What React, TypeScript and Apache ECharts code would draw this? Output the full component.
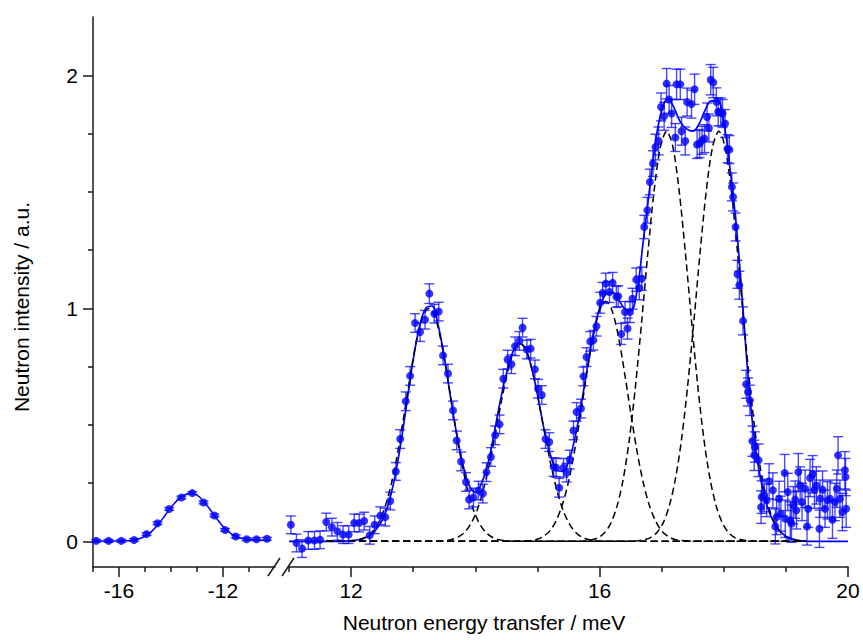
import React, { useEffect, useRef } from "react";
import * as echarts from "echarts";

// ---------- left segment (energy loss side) ----------
const leftX = [-16.88, -16.4, -15.91, -15.42, -14.94, -14.52, -14.07, -13.6, -13.18, -12.75, -12.33, -11.92, -11.51, -11.09, -10.71, -10.31];
const leftY = [0.002, 0.002, 0.002, 0.006, 0.031, 0.078, 0.139, 0.188, 0.207, 0.167, 0.111, 0.049, 0.021, 0.009, 0.009, 0.011];
const leftErr = [0.006, 0.006, 0.006, 0.006, 0.006, 0.006, 0.006, 0.006, 0.006, 0.006, 0.006, 0.006, 0.006, 0.006, 0.006, 0.006];

const leftFitX = [-17, -16.5, -16, -15.5, -15.25, -15, -14.75, -14.5, -14.25, -14, -13.75, -13.5, -13.25, -13, -12.75, -12.5, -12.25, -12, -11.75, -11.5, -11.25, -11, -10.5, -10.2];
const leftFitY = [0.002, 0.002, 0.002, 0.004, 0.01, 0.022, 0.042, 0.072, 0.108, 0.146, 0.177, 0.198, 0.206, 0.198, 0.172, 0.137, 0.099, 0.064, 0.038, 0.021, 0.012, 0.008, 0.005, 0.004];

// ---------- right segment ----------
const rightX = [
  11.03, 11.12, 11.21, 11.31, 11.41, 11.5, 11.6, 11.69, 11.78, 11.87,
  11.96, 12.05, 12.13, 12.21, 12.3, 12.38, 12.47, 12.55, 12.63, 12.72,
  12.79, 12.88, 12.95, 13.03, 13.11, 13.19, 13.26, 13.34, 13.41, 13.48,
  13.56, 13.64, 13.7, 13.77, 13.85, 13.9, 13.97, 14.05, 14.12, 14.18,
  14.25, 14.32, 14.39, 14.45, 14.52, 14.58, 14.64, 14.71, 14.76, 14.83,
  14.89, 14.96, 15.01, 15.07, 15.13, 15.19, 15.26, 15.3, 15.35, 15.42,
  15.47, 15.52, 15.58, 15.63, 15.7, 15.74, 15.79, 15.85, 15.9, 15.95,
  16.01, 16.05, 16.1, 16.16, 16.21, 16.27, 16.3, 16.35, 16.41, 16.45,
  16.49, 16.53, 16.59, 16.64, 16.68, 16.72, 16.77, 16.81, 16.86, 16.9,
  16.95, 16.99, 17.04, 17.08, 17.12, 17.16, 17.22, 17.24, 17.3, 17.32,
  17.38, 17.41, 17.48, 17.53, 17.57, 17.61, 17.65, 17.69, 17.73, 17.76,
  17.79, 17.83, 17.88, 17.91, 17.95, 17.98, 18.02, 18.06, 18.09, 18.13,
  18.15, 18.19, 18.22, 18.25, 18.31, 18.36, 18.39, 18.42, 18.46, 18.49,
  18.5, 18.56, 18.6, 18.61, 18.65, 18.69, 18.73, 18.79, 18.83, 18.85,
  18.89, 18.92, 18.98, 18.99, 19.03, 19.07, 19.09, 19.12, 19.15, 19.17,
  19.2, 19.23, 19.26, 19.31, 19.34, 19.36, 19.39, 19.43, 19.46, 19.49,
  19.54, 19.55, 19.59, 19.63, 19.67, 19.71, 19.75, 19.79, 19.82, 19.84,
  19.87, 19.91, 19.95, 19.96, 19.97,
];
const rightY = [
  0.071, -0.007, -0.031, 0.004, 0.004, 0.007, 0.083, 0.061, 0.043, 0.029,
  0.029, 0.079, 0.079, 0.087, 0.026, 0.071, 0.11, 0.104, 0.173, 0.3,
  0.439, 0.601, 0.71, 0.937, 0.898, 0.951, 1.063, 0.977, 0.986, 0.798,
  0.72, 0.562, 0.433, 0.343, 0.255, 0.18, 0.188, 0.218, 0.205, 0.297,
  0.362, 0.455, 0.502, 0.698, 0.78, 0.76, 0.837, 0.86, 0.917, 0.823,
  0.827, 0.738, 0.655, 0.628, 0.439, 0.426, 0.319, 0.316, 0.23, 0.316,
  0.295, 0.351, 0.476, 0.555, 0.57, 0.708, 0.791, 0.858, 0.863, 0.923,
  1.024, 1.066, 1.106, 1.07, 1.109, 1.049, 1.052, 0.89, 0.984, 0.913,
  0.984, 1.041, 1.123, 1.087, 1.127, 1.349, 1.421, 1.542, 1.621, 1.692,
  1.718, 1.864, 1.824, 1.964, 1.896, 1.836, 1.733, 1.961, 1.961, 1.76,
  1.718, 1.885, 1.876, 1.94, 1.703, 1.707, 1.721, 1.728, 1.821, 1.774,
  1.981, 1.969, 1.886, 1.843, 1.843, 1.836, 1.793, 1.685, 1.681, 1.521,
  1.478, 1.349, 1.146, 1.099, 0.946, 0.674, 0.641, 0.605, 0.43, 0.369,
  0.405, 0.348, 0.147, 0.19, 0.197, 0.176, 0.258, 0.219, 0.064, 0.104,
  0.183, 0.119, 0.293, 0.097, 0.212, 0.09, 0.076, 0.155, 0.179, 0.133,
  0.297, 0.24, 0.169, 0.226, 0.064, 0.14, 0.272, 0.288, 0.222, 0.24,
  0.054, 0.183, 0.222, 0.14, 0.176, 0.183, 0.093, 0.169, 0.226, 0.369,
  0.183, 0.126, 0.305, 0.276, 0.14,
];
const rightErr = [
  0.038, 0.038, 0.038, 0.038, 0.038, 0.038, 0.038, 0.038, 0.038, 0.038,
  0.038, 0.038, 0.038, 0.038, 0.038, 0.038, 0.038, 0.038, 0.038, 0.038,
  0.04, 0.04, 0.04, 0.04, 0.04, 0.04, 0.042, 0.04, 0.04, 0.04,
  0.04, 0.04, 0.04, 0.04, 0.04, 0.04, 0.04, 0.04, 0.04, 0.04,
  0.04, 0.04, 0.04, 0.04, 0.04, 0.04, 0.04, 0.04, 0.04, 0.04,
  0.04, 0.04, 0.04, 0.04, 0.04, 0.04, 0.04, 0.04, 0.04, 0.04,
  0.04, 0.04, 0.04, 0.04, 0.04, 0.04, 0.04, 0.042, 0.042, 0.042,
  0.045, 0.045, 0.045, 0.045, 0.045, 0.045, 0.045, 0.045, 0.045, 0.045,
  0.045, 0.045, 0.05, 0.05, 0.05, 0.05, 0.055, 0.055, 0.055, 0.055,
  0.06, 0.06, 0.06, 0.065, 0.06, 0.06, 0.06, 0.065, 0.065, 0.06,
  0.06, 0.06, 0.06, 0.065, 0.06, 0.06, 0.06, 0.06, 0.06, 0.06,
  0.065, 0.065, 0.06, 0.06, 0.06, 0.06, 0.06, 0.06, 0.06, 0.06,
  0.06, 0.06, 0.06, 0.06, 0.06, 0.06, 0.06, 0.065, 0.065, 0.065,
  0.065, 0.07, 0.07, 0.07, 0.07, 0.07, 0.075, 0.075, 0.075, 0.075,
  0.075, 0.075, 0.08, 0.08, 0.08, 0.08, 0.08, 0.08, 0.08, 0.08,
  0.08, 0.08, 0.08, 0.08, 0.08, 0.08, 0.08, 0.08, 0.08, 0.08,
  0.08, 0.08, 0.08, 0.08, 0.08, 0.08, 0.08, 0.08, 0.08, 0.08,
  0.08, 0.08, 0.08, 0.08, 0.08,
];

// total fit (solid line)
const fitX = [
  11.0, 11.1, 11.2, 11.3, 11.4, 11.5, 11.6, 11.7, 11.8, 11.9,
  12.0, 12.1, 12.2, 12.3, 12.4, 12.5, 12.6, 12.7, 12.8, 12.9,
  13.0, 13.1, 13.2, 13.3, 13.4, 13.5, 13.6, 13.7, 13.8, 13.9,
  14.0, 14.1, 14.2, 14.3, 14.4, 14.5, 14.6, 14.7, 14.8, 14.9,
  15.0, 15.1, 15.2, 15.3, 15.4, 15.5, 15.6, 15.7, 15.8, 15.9,
  16.0, 16.1, 16.2, 16.3, 16.4, 16.5, 16.6, 16.7, 16.8, 16.9,
  17.0, 17.1, 17.2, 17.3, 17.4, 17.5, 17.6, 17.7, 17.8, 17.9,
  18.0, 18.1, 18.2, 18.3, 18.4, 18.5, 18.6, 18.7, 18.8, 18.9,
  19.0, 19.1, 19.2, 19.3, 19.4, 19.5, 19.6, 19.7, 19.8, 19.9,
  20.0,
];
const fitY = [
  0, 0, 0, 0, 0, 0, 0, 0, 0, 0.001,
  0.003, 0.006, 0.013, 0.025, 0.05, 0.09, 0.16, 0.27, 0.42, 0.6,
  0.78, 0.92, 1.0, 1.01, 0.93, 0.79, 0.62, 0.46, 0.33, 0.24,
  0.21, 0.25, 0.33, 0.46, 0.6, 0.72, 0.81, 0.85, 0.83, 0.75,
  0.63, 0.49, 0.38, 0.31, 0.3, 0.34, 0.44, 0.58, 0.74, 0.89,
  1.0, 1.06, 1.07, 1.04, 1.0, 0.99, 1.07, 1.28, 1.5, 1.71,
  1.85, 1.9, 1.86, 1.8, 1.77, 1.76, 1.79, 1.85, 1.89, 1.89,
  1.8, 1.6, 1.36, 1.03, 0.68, 0.42, 0.26, 0.15, 0.085, 0.045,
  0.022, 0.01, 0.004, 0.001, 0, 0, 0, 0, 0, 0,
  0,
];

// fit components (dashed)
const peak1X = [11.85, 11.95, 12.05, 12.15, 12.25, 12.35, 12.45, 12.55, 12.65, 12.75, 12.85, 12.95, 13.05, 13.15, 13.25, 13.35, 13.45, 13.55, 13.65, 13.75, 13.85, 13.95, 14.05, 14.15, 14.25, 14.35, 14.45, 14.55, 14.65];
const peak1Y = [0, 0.0015, 0.004, 0.009, 0.021, 0.044, 0.085, 0.151, 0.249, 0.381, 0.539, 0.707, 0.857, 0.962, 1.0, 0.962, 0.857, 0.707, 0.539, 0.381, 0.249, 0.151, 0.085, 0.044, 0.021, 0.009, 0.004, 0.0015, 0];
const peak2X = [13.32, 13.42, 13.52, 13.62, 13.72, 13.82, 13.92, 14.02, 14.12, 14.22, 14.32, 14.42, 14.52, 14.62, 14.72, 14.82, 14.92, 15.02, 15.12, 15.22, 15.32, 15.42, 15.52, 15.62, 15.72, 15.82, 15.92, 16.02, 16.12];
const peak2Y = [0, 0.001, 0.003, 0.008, 0.018, 0.037, 0.072, 0.128, 0.212, 0.324, 0.458, 0.601, 0.728, 0.818, 0.85, 0.818, 0.728, 0.601, 0.458, 0.324, 0.212, 0.128, 0.072, 0.037, 0.018, 0.008, 0.003, 0.001, 0];
const peak3X = [14.7, 14.8, 14.9, 15.0, 15.1, 15.2, 15.3, 15.4, 15.5, 15.6, 15.7, 15.8, 15.9, 16.0, 16.1, 16.2, 16.3, 16.4, 16.5, 16.6, 16.7, 16.8, 16.9, 17.0, 17.1, 17.2, 17.3, 17.4, 17.5];
const peak3Y = [0, 0.002, 0.004, 0.009, 0.022, 0.045, 0.088, 0.156, 0.256, 0.392, 0.555, 0.728, 0.883, 0.991, 1.03, 0.991, 0.883, 0.728, 0.555, 0.392, 0.256, 0.156, 0.088, 0.045, 0.022, 0.009, 0.004, 0.002, 0];
const peak4X = [15.68, 15.78, 15.88, 15.98, 16.08, 16.18, 16.28, 16.38, 16.48, 16.58, 16.68, 16.78, 16.88, 16.98, 17.08, 17.18, 17.28, 17.38, 17.48, 17.58, 17.68, 17.78, 17.88, 17.98, 18.08, 18.18, 18.28, 18.38, 18.48];
const peak4Y = [0, 0.003, 0.007, 0.016, 0.037, 0.077, 0.15, 0.266, 0.438, 0.671, 0.949, 1.244, 1.508, 1.693, 1.76, 1.693, 1.508, 1.244, 0.949, 0.671, 0.438, 0.266, 0.15, 0.077, 0.037, 0.016, 0.007, 0.003, 0];
const peak5X = [16.52, 16.62, 16.72, 16.82, 16.92, 17.02, 17.12, 17.22, 17.32, 17.42, 17.52, 17.62, 17.72, 17.82, 17.92, 18.02, 18.12, 18.22, 18.32, 18.42, 18.52, 18.62, 18.72, 18.82, 18.92, 19.02, 19.12, 19.22, 19.32];
const peak5Y = [0, 0.003, 0.007, 0.016, 0.037, 0.077, 0.15, 0.266, 0.438, 0.671, 0.949, 1.244, 1.508, 1.693, 1.76, 1.693, 1.508, 1.244, 0.949, 0.671, 0.438, 0.266, 0.15, 0.077, 0.037, 0.016, 0.007, 0.003, 0];

const componentStart = 11.6;
const componentEnd = 19.32;

// ticks
const leftMajorTicks = [-16, -12];
const leftMinorTicks = [-17, -15, -14, -13, -11];
const rightMajorTicks = [12, 16, 20];
const rightMinorTicks = [11, 13, 14, 15, 17, 18, 19];
const yMajorTicks = [0, 1, 2];
const yMinorTicks = [0.25, 0.5, 0.75, 1.25, 1.5, 1.75];

const xTitle = "Neutron energy transfer / meV";
const yTitle = "Neutron intensity / a.u.";

const BLUE = "#0000ff";
const AXIS = "#1a1a1a";
const FONT = '"Liberation Sans", Arial, Helvetica, sans-serif';

function errorBars(xs: number[], ys: number[], es: number[], xi: number, yi: number) {
  return {
    type: "custom",
    xAxisIndex: xi,
    yAxisIndex: yi,
    silent: true,
    z: 4,
    encode: { x: 0, y: 1 },
    data: xs.map((x, i) => [x, ys[i], es[i]]),
    renderItem: (_params: any, api: any) => {
      const x = api.value(0);
      const y = api.value(1);
      const e = api.value(2);
      const top = api.coord([x, y + e]);
      const bot = api.coord([x, y - e]);
      const w = 5;
      const style = { stroke: "rgba(0,0,255,0.72)", lineWidth: 1.4 };
      return {
        type: "group",
        children: [
          { type: "line", shape: { x1: top[0], y1: top[1], x2: bot[0], y2: bot[1] }, style },
          { type: "line", shape: { x1: top[0] - w, y1: top[1], x2: top[0] + w, y2: top[1] }, style },
          { type: "line", shape: { x1: bot[0] - w, y1: bot[1], x2: bot[0] + w, y2: bot[1] }, style },
        ],
      };
    },
  };
}

function xAxisPair(grid: number, min: number, max: number, major: number[], minor: number[]) {
  return [
    {
      type: "value",
      gridIndex: grid,
      min,
      max,
      position: "bottom",
      axisLine: { show: true, onZero: false, lineStyle: { color: AXIS, width: 1.5 } },
      axisTick: { show: true, customValues: major, length: 10, inside: false, lineStyle: { color: AXIS, width: 1.5 } },
      axisLabel: { show: true, customValues: major, fontSize: 21, fontFamily: FONT, color: "#000", margin: 13 },
      splitLine: { show: false },
    },
    {
      type: "value",
      gridIndex: grid,
      min,
      max,
      position: "bottom",
      axisLine: { show: false, onZero: false },
      axisTick: { show: true, customValues: minor, length: 5, inside: false, lineStyle: { color: AXIS, width: 1.5 } },
      axisLabel: { show: false },
      splitLine: { show: false },
    },
  ];
}

const yMin = -0.11;
const yMax = 2.25;

function buildOption() {
  const components = [
    [peak1X, peak1Y],
    [peak2X, peak2Y],
    [peak3X, peak3Y],
    [peak4X, peak4Y],
    [peak5X, peak5Y],
  ].map(([xs, ys]) => {
    const pts: number[][] = xs.map((x, i) => [x, ys[i]]);
    if (xs[0] > componentStart) pts.unshift([componentStart, 0]);
    if (xs[xs.length - 1] < componentEnd) pts.push([componentEnd, 0]);
    return {
      type: "line",
      xAxisIndex: 2,
      yAxisIndex: 2,
      data: pts,
      showSymbol: false,
      symbol: "none",
      smooth: 0.3,
      silent: true,
      z: 3,
      lineStyle: { color: "#000", width: 1.5, type: [7, 4] },
    };
  });

  return {
    animation: false,
    backgroundColor: "#fff",
    grid: [
      { left: 93, top: 17, width: 182, height: 550, outerBoundsMode: "none" },
      { left: 289, top: 17, width: 559, height: 550, outerBoundsMode: "none" },
    ],
    xAxis: [
      ...xAxisPair(0, -17, -10, leftMajorTicks, leftMinorTicks),
      ...xAxisPair(1, 11, 20, rightMajorTicks, rightMinorTicks),
    ],
    yAxis: [
      {
        type: "value",
        gridIndex: 0,
        min: yMin,
        max: yMax,
        position: "left",
        axisLine: { show: true, onZero: false, lineStyle: { color: AXIS, width: 1.5 } },
        axisTick: { show: true, customValues: yMajorTicks, length: 10, lineStyle: { color: AXIS, width: 1.5 } },
        axisLabel: { show: true, customValues: yMajorTicks, fontSize: 21, fontFamily: FONT, color: "#000", margin: 15 },
        splitLine: { show: false },
      },
      {
        type: "value",
        gridIndex: 0,
        min: yMin,
        max: yMax,
        position: "left",
        axisLine: { show: false, onZero: false },
        axisTick: { show: true, customValues: yMinorTicks, length: 5, lineStyle: { color: AXIS, width: 1.5 } },
        axisLabel: { show: false },
        splitLine: { show: false },
      },
      {
        type: "value",
        gridIndex: 1,
        min: yMin,
        max: yMax,
        show: false,
        splitLine: { show: false },
      },
    ],
    series: [
      {
        type: "line",
        xAxisIndex: 0,
        yAxisIndex: 0,
        data: leftFitX.map((x, i) => [x, leftFitY[i]]),
        showSymbol: false,
        symbol: "none",
        smooth: 0.4,
        silent: true,
        z: 2,
        lineStyle: { color: BLUE, width: 1.5 },
      },
      errorBars(leftX, leftY, leftErr, 0, 0),
      {
        type: "scatter",
        xAxisIndex: 0,
        yAxisIndex: 0,
        data: leftX.map((x, i) => [x, leftY[i]]),
        symbol: "circle",
        symbolSize: 8,
        silent: true,
        z: 5,
        itemStyle: { color: BLUE },
      },
      {
        type: "line",
        xAxisIndex: 2,
        yAxisIndex: 2,
        data: fitX.map((x, i) => [x, fitY[i]]),
        showSymbol: false,
        symbol: "none",
        smooth: 0.4,
        silent: true,
        z: 2,
        lineStyle: { color: BLUE, width: 1.7 },
      },
      ...components,
      errorBars(rightX, rightY, rightErr, 2, 2),
      {
        type: "scatter",
        xAxisIndex: 2,
        yAxisIndex: 2,
        data: rightX.map((x, i) => [x, rightY[i]]),
        symbol: "circle",
        symbolSize: 8,
        silent: true,
        z: 5,
        itemStyle: { color: BLUE },
      },
    ],
    graphic: [
      { type: "line", silent: true, z: 100, shape: { x1: 268, y1: 576, x2: 280, y2: 558 }, style: { stroke: AXIS, lineWidth: 1.5 } },
      { type: "line", silent: true, z: 100, shape: { x1: 282, y1: 576, x2: 294, y2: 558 }, style: { stroke: AXIS, lineWidth: 1.5 } },
      {
        type: "text",
        x: 484,
        y: 622,
        silent: true,
        style: { text: xTitle, fontSize: 21, fontFamily: FONT, fill: "#000", align: "center", verticalAlign: "middle" },
      },
      {
        type: "text",
        x: 21,
        y: 307,
        rotation: Math.PI / 2,
        silent: true,
        style: { text: yTitle, fontSize: 21, fontFamily: FONT, fill: "#000", align: "center", verticalAlign: "middle" },
      },
    ],
  };
}

export default function App() {
  const ref = useRef<HTMLDivElement>(null);
  useEffect(() => {
    if (!ref.current) return;
    const chart = echarts.init(ref.current, null, { renderer: "svg" });
    chart.setOption(buildOption() as any);
    return () => chart.dispose();
  }, []);
  return (
    <div
      ref={ref}
      style={{ position: "fixed", left: 0, top: 0, width: 863, height: 640, background: "#fff" }}
    />
  );
}
